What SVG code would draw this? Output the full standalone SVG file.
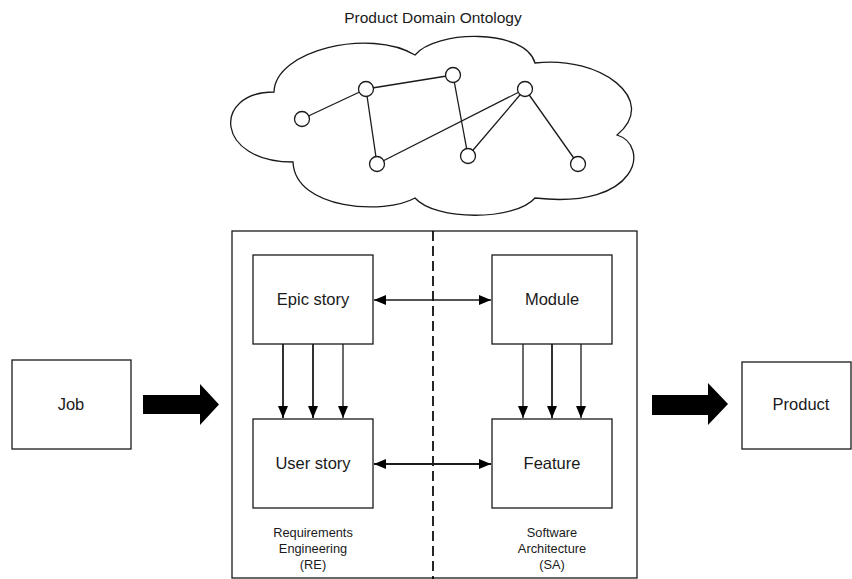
<svg xmlns="http://www.w3.org/2000/svg" width="852" height="579" viewBox="0 0 852 579">
<defs>
<style>
.box{fill:#fff;stroke:#1a1a1a;stroke-width:1.3}
.ln{fill:none;stroke:#1a1a1a;stroke-width:1.3}
.ln2{fill:none;stroke:#1a1a1a;stroke-width:1.8}
.nd{fill:#fff;stroke:#1a1a1a;stroke-width:1.3}
.t{font-family:"Liberation Sans",Arial,sans-serif;fill:#1a1a1a;text-anchor:middle}
.big{font-size:16.5px}
.sm{font-size:12.8px}
.fat{fill:#000}
</style>
<marker id="ah" viewBox="0 0 12 10" refX="12" refY="5" markerUnits="userSpaceOnUse" markerWidth="12" markerHeight="10" orient="auto-start-reverse">
<path d="M0,0 L12,5 L0,10 Z" fill="#000"/>
</marker>
</defs>
<rect width="852" height="579" fill="#fff"/>
<text class="t" x="433" y="23" font-size="15.5">Product Domain Ontology</text>
<g id="cloud">
<path class="ln" d="M274,92 C275,50 370,28 415,55 C435,30 525,28 535,63 C600,55 660,100 617,135 C650,145 640,210 535,198 C515,221 435,221 415,198 C385,215 295,210 293,162 C215,162 212,92 274,92 Z"/>
<g id="ontology-edges">
<line class="ln" x1="302" y1="119" x2="366" y2="89"/>
<line class="ln" x1="366" y1="89" x2="453" y2="75"/>
<line class="ln" x1="366" y1="89" x2="377" y2="164"/>
<line class="ln" x1="453" y1="75" x2="468" y2="156"/>
<line class="ln" x1="377" y1="164" x2="525" y2="89"/>
<line class="ln" x1="468" y1="156" x2="525" y2="89"/>
<line class="ln" x1="525" y1="89" x2="578" y2="164"/>
</g>
<g id="ontology-nodes">
<circle class="nd" cx="302" cy="119" r="7.5"/>
<circle class="nd" cx="366" cy="89" r="7.5"/>
<circle class="nd" cx="453" cy="75" r="7.5"/>
<circle class="nd" cx="525" cy="89" r="7.5"/>
<circle class="nd" cx="377" cy="164" r="7.5"/>
<circle class="nd" cx="468" cy="156" r="7.5"/>
<circle class="nd" cx="578" cy="164" r="7.5"/>
</g>
</g>
<g id="container">
<rect class="box" x="232" y="231" width="405" height="347"/>
<line x1="433" y1="231" x2="433" y2="579" stroke="#000" stroke-width="1.7" stroke-dasharray="10,5"/>
<text class="t sm" x="313" y="537">Requirements</text>
<text class="t sm" x="313" y="553">Engineering</text>
<text class="t sm" x="313" y="569">(RE)</text>
<text class="t sm" x="552" y="537">Software</text>
<text class="t sm" x="552" y="553">Architecture</text>
<text class="t sm" x="552" y="569">(SA)</text>
</g>
<g id="job">
<rect class="box" x="12" y="360" width="119" height="89"/>
<text class="t big" x="71" y="410">Job</text>
</g>
<g id="product">
<rect class="box" x="742" y="362" width="109" height="87"/>
<text class="t big" x="801" y="410">Product</text>
</g>
<g id="epic-story">
<rect class="box" x="253" y="255" width="120" height="89"/>
<text class="t big" x="313" y="305">Epic story</text>
</g>
<g id="user-story">
<rect class="box" x="253" y="419" width="120" height="89"/>
<text class="t big" x="313" y="469">User story</text>
</g>
<g id="module">
<rect class="box" x="492" y="255" width="120" height="89"/>
<text class="t big" x="552" y="305">Module</text>
</g>
<g id="feature">
<rect class="box" x="492" y="419" width="120" height="89"/>
<text class="t big" x="552" y="469">Feature</text>
</g>
<g id="connectors">
<line class="ln" x1="374" y1="300" x2="491" y2="300" marker-start="url(#ah)" marker-end="url(#ah)"/>
<line class="ln2" x1="374" y1="464" x2="491" y2="464" marker-start="url(#ah)" marker-end="url(#ah)"/>
<line class="ln2" x1="283" y1="344" x2="283" y2="418" marker-end="url(#ah)"/>
<line class="ln2" x1="313" y1="344" x2="313" y2="418" marker-end="url(#ah)"/>
<line class="ln" x1="343" y1="344" x2="343" y2="418" marker-end="url(#ah)"/>
<line class="ln" x1="523" y1="344" x2="523" y2="418" marker-end="url(#ah)"/>
<line class="ln2" x1="552" y1="344" x2="552" y2="418" marker-end="url(#ah)"/>
<line class="ln" x1="581" y1="344" x2="581" y2="418" marker-end="url(#ah)"/>
<path class="fat" d="M143,395 L200,395 L200,384 L219,404.5 L200,425 L200,414 L143,414 Z"/>
<path class="fat" d="M652,395 L708,395 L708,383 L728,404 L708,425 L708,415 L652,415 Z"/>
</g>
</svg>
